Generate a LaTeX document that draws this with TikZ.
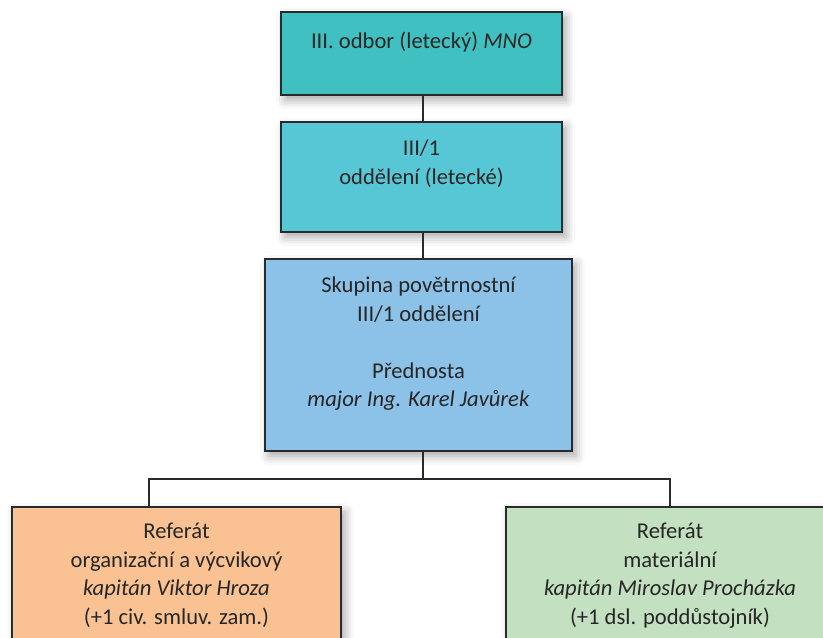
\documentclass[tikz,border=0pt]{standalone}
\usepackage{fontspec}
\setmainfont{Carlito}
\usetikzlibrary{shadows.blur}

\definecolor{odborfill}{HTML}{40C0C0}
\definecolor{oddfill}{HTML}{58C7D5}
\definecolor{skupfill}{HTML}{8CC1E8}
\definecolor{orgfill}{HTML}{FAC292}
\definecolor{matfill}{HTML}{C3E0C0}
\definecolor{edgegray}{HTML}{2A2A2A}
\definecolor{txtgray}{HTML}{262626}

\tikzset{
  orgbox/.style={rectangle, draw=edgegray, line width=1.6pt, inner sep=0pt,
    blur shadow={shadow xshift=4pt, shadow yshift=-5pt, shadow blur radius=9pt, shadow opacity=35}},
  boxtext/.style={anchor=north, align=center, inner sep=0pt, text=txtgray,
    font=\fontsize{22.6}{28.5}\selectfont},
  link/.style={draw=edgegray, line width=1.6pt}
}

\begin{document}
\begin{tikzpicture}[x=1pt, y=-1pt]
  \useasboundingbox (0,0) rectangle (823,638);
  \clip (0,0) rectangle (823,638);

  % boxes
  \node[orgbox, fill=odborfill, minimum width=281pt, minimum height=83pt] (odbor) at (421.5,53.5) {};
  \node[orgbox, fill=oddfill, minimum width=281pt, minimum height=110pt] (oddeleni) at (421.5,177) {};
  \node[orgbox, fill=skupfill, minimum width=307pt, minimum height=192pt] (skupina) at (418.5,355) {};
  \node[orgbox, fill=orgfill, minimum width=329pt, minimum height=173pt] (organiz) at (176.5,593.5) {};
  \node[orgbox, fill=matfill, minimum width=328pt, minimum height=173pt] (material) at (670,593.5) {};

  % connector junctions
  \coordinate (trunk) at (423,0);
  \coordinate (jl) at (149,479);
  \coordinate (jr) at (670,479);

  \draw[link] (odbor.south -| trunk) -- (oddeleni.north -| trunk);
  \draw[link] (oddeleni.south -| trunk) -- (skupina.north -| trunk);
  \draw[link] (skupina.south -| trunk) -- (jl -| trunk);
  \draw[link] (organiz.north -| jl) -- (jl) -- (jr) -- (material.north -| jr);

  % texts
  \node[boxtext] (t-odbor) at (421.5,32) {III. odbor (letecký) \textit{MNO}};
  \node[boxtext] (t-odd) at (421.5,140) {III/1\\oddělení (letecké)};
  \node[boxtext] (t-skup) at (418.5,277) {Skupina povětrnostní\\III/1 oddělení\\[28.5pt]Přednosta\\\textit{major Ing. Karel Javůrek}};
  \node[boxtext] (t-org) at (176.5,523) {Referát\\organizační a výcvikový\\\textit{kapitán Viktor Hroza}\\(+1 civ. smluv. zam.)};
  \node[boxtext] (t-mat) at (670,523) {Referát\\materiální\\\textit{kapitán Miroslav Procházka}\\(+1 dsl. poddůstojník)};
\end{tikzpicture}
\end{document}
